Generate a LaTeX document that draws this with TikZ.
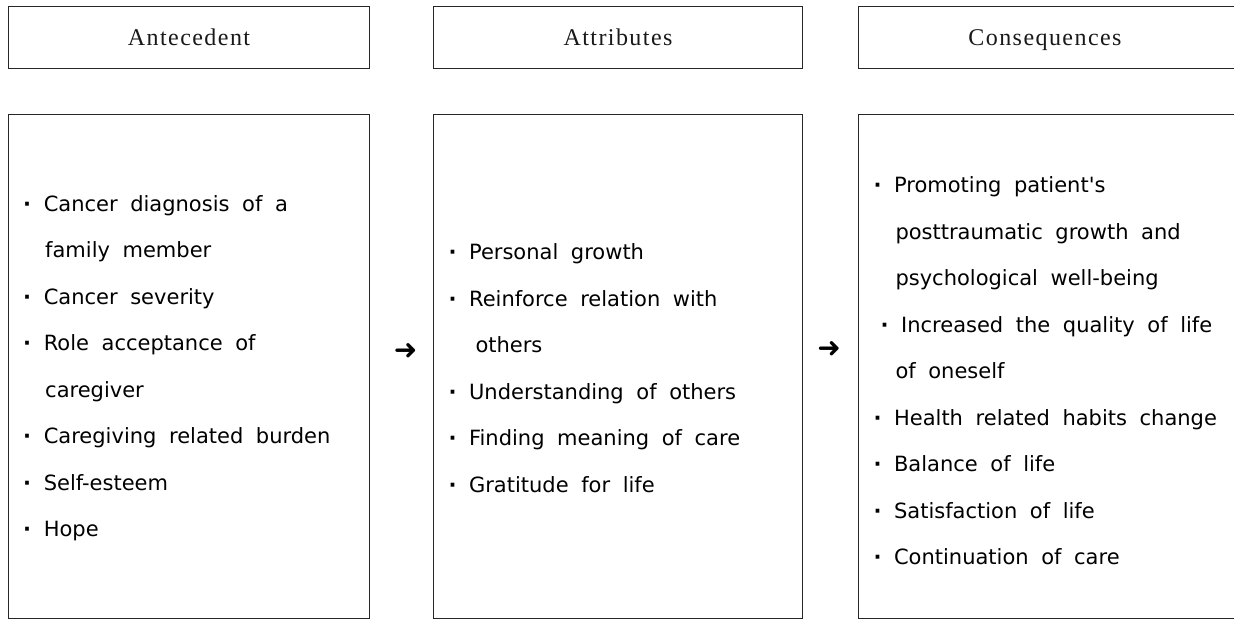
\documentclass[tikz,border=0pt]{standalone}
\usepackage{fontspec}
\setmainfont{DejaVu Sans}
\newfontfamily\headfont{Liberation Serif}[LetterSpace=6]
\newfontfamily\bodyfont{DejaVu Sans}[Ligatures=TeXOff]
\newfontfamily\glyphfont{DejaVu Sans}
\newcommand{\bul}{{\bfseries ·}}
\begin{document}
\begin{tikzpicture}[x=1pt,y=-1pt,
  frame/.style={draw=black!85, line width=1pt},
  headtext/.style={font=\headfont\fontsize{24}{28}\selectfont, text=black!90, inner sep=0, anchor=base},
  bodytext/.style={font={\bodyfont\fontsize{21}{46.5}\selectfont\spaceskip=12.6pt plus 2pt minus 1pt\relax},
    align=left, anchor=west, inner sep=0, text=black},
  arrowglyph/.style={font=\glyphfont\fontsize{28}{32}\selectfont, inner sep=0}]
\clip (0,0) rectangle (1234,619);
\fill[white] (0,0) rectangle (1234,619);

% column headers
\draw[frame] (8.3,6) rectangle (369.7,68);
\draw[frame] (433.3,6) rectangle (802.7,68);
\draw[frame] (858.3,6) rectangle (1240,68);
\node[headtext] (hA) at (189,45.5) {Antecedent};
\node[headtext] (hB) at (618,45.5) {Attributes};
\node[headtext] (hC) at (1045,45.5) {Consequences};

% column bodies
\draw[frame] (8.3,114) rectangle (369.7,618);
\draw[frame] (433.3,114) rectangle (802.7,618);
\draw[frame] (858.3,114) rectangle (1240,618);

\node[bodytext] (tA) at (23,368) {%
\bul{} Cancer diagnosis of a\\
\hspace*{22pt}family member\\
\bul{} Cancer severity\\
\bul{} Role acceptance of\\
\hspace*{22pt}caregiver\\
\bul{} Caregiving related burden\\
\bul{} Self-esteem\\
\bul{} Hope};

\node[bodytext] (tB) at (448.3,368) {%
\bul{} Personal growth\\
\bul{} Reinforce relation with\\
\hspace*{27pt}others\\
\bul{} Understanding of others\\
\bul{} Finding meaning of care\\
\bul{} Gratitude for life};

\node[bodytext] (tC) at (873.3,371) {%
\bul{} Promoting patient's\\
\hspace*{22pt}posttraumatic growth and\\
\hspace*{22pt}psychological well-being\\
\hspace*{7pt}\bul{} Increased the quality of life\\
\hspace*{22pt}of oneself\\
\bul{} Health related habits change\\
\bul{} Balance of life\\
\bul{} Satisfaction of life\\
\bul{} Continuation of care};

% flow arrows between the columns
\node[arrowglyph] (arA) at (405.5,352) {➜};
\node[arrowglyph] (arB) at (829,350) {➜};
\end{tikzpicture}
\end{document}
